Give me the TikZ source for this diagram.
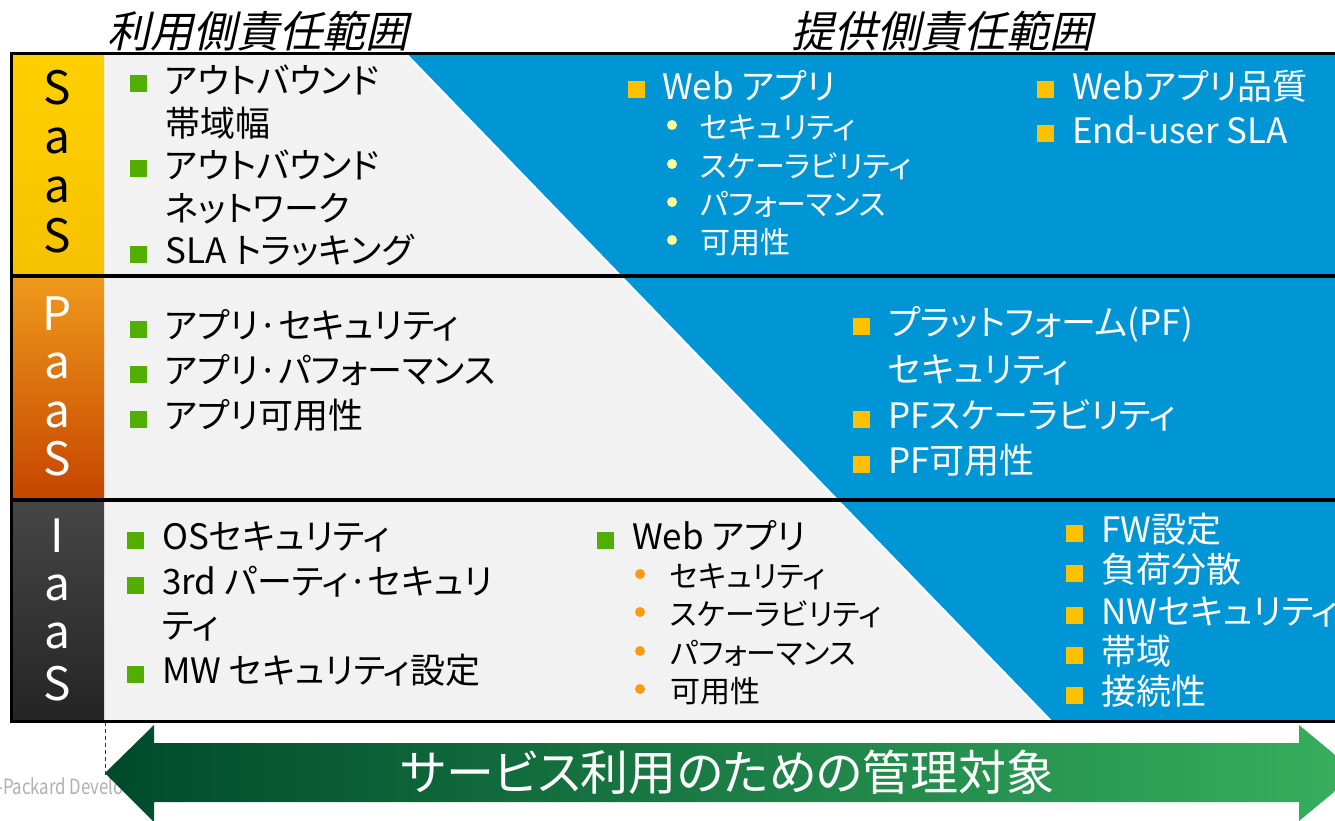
\documentclass[tikz,border=0pt]{standalone}
\usepackage{fontspec}
\setmainfont{Noto Sans CJK JP}[RawFeature=+palt]
\newfontfamily\jpslant{Noto Sans CJK JP}[FakeSlant=0.22,RawFeature=+palt]
\newfontfamily\condfont{Noto Sans CJK JP}[FakeStretch=0.8]
\definecolor{hpblue}{HTML}{0096D6}
\definecolor{panelgray}{HTML}{F2F2F2}
\definecolor{bulgreen}{HTML}{52AE00}
\definecolor{bulgold}{HTML}{FFC000}
\definecolor{dotyellow}{HTML}{FFFF99}
\definecolor{dotorange}{HTML}{FF9A0E}
\definecolor{arrdark}{HTML}{004A2C}
\definecolor{arrlight}{HTML}{37B05E}
\definecolor{copygray}{HTML}{B0B0B0}
\begin{document}
\begin{tikzpicture}[x=1pt,y=-1pt,
  mainT/.style={anchor=west, inner sep=0pt, font=\fontsize{35}{35}\selectfont, text height=30.8pt, text depth=4.2pt},
  subT/.style={anchor=west, inner sep=0pt, font=\fontsize{30}{30}\selectfont, text height=26.4pt, text depth=3.6pt},
  onblue/.style={text=white},
  sqG/.style={fill=bulgreen, minimum size=17pt, inner sep=0pt},
  sqY/.style={fill=bulgold, minimum size=17pt, inner sep=0pt},
  dotY/.style={circle, fill=dotyellow, minimum size=10pt, inner sep=0pt},
  dotO/.style={circle, fill=dotorange, minimum size=10pt, inner sep=0pt},
  colL/.style={anchor=base, inner sep=0pt, font=\fontsize{46}{46}\selectfont},
  headT/.style={inner sep=0pt, font=\jpslant\fontsize{43}{43}\selectfont, text height=38pt, text depth=5pt},
  rowline/.style={line width=4pt, black},
]
\useasboundingbox (0,0) rectangle (1335,821);
\clip (0,0) rectangle (1335,821);
\fill[white] (0,0) rectangle (1335,821);

% panel background
\fill[panelgray] (104,53) rectangle (1345,722);
\fill[hpblue] (405,53) -- (1345,53) -- (1345,722) -- (1052,722) -- cycle;
\draw[white, line width=2pt] (405,53) -- (1052,722);

% column shadings
\shade[top color={rgb,255:red,255;green,208;blue,0}, middle color={rgb,255:red,216;green,168;blue,0}, bottom color={rgb,255:red,246;green,194;blue,0}] (11,53) rectangle (104,276);
\shade[top color={rgb,255:red,239;green,154;blue,27}, bottom color={rgb,255:red,197;green,69;blue,0}] (11,276) rectangle (104,500);
\shade[top color={rgb,255:red,70;green,70;blue,70}, bottom color={rgb,255:red,36;green,36;blue,36}] (11,500) rectangle (104,722);

% frame lines
\draw[line width=3pt, black] (1345,53.5) -- (11.5,53.5) -- (11.5,721.5) -- (1345,721.5);
\draw[rowline] (10,276) -- (1345,276);
\draw[rowline] (10,500) -- (1345,500);

% headers
\node[headT] (hUser) at (258,31) {利用側責任範囲};
\node[headT] (hProv) at (942,31) {提供側責任範囲};

% column letters
\node[colL] (sa1) at (57,105) {S};
\node[colL] (sa2) at (57,154) {a};
\node[colL] (sa3) at (57,203) {a};
\node[colL] (sa4) at (57,252) {S};
\node[colL, text=white] (pa1) at (57,330) {P};
\node[colL, text=white] (pa2) at (57,378) {a};
\node[colL, text=white] (pa3) at (57,427) {a};
\node[colL, text=white] (pa4) at (57,475) {S};
\node[colL, text=white] (ia1) at (57,552) {I};
\node[colL, text=white] (ia2) at (57,600) {a};
\node[colL, text=white] (ia3) at (57,648) {a};
\node[colL, text=white] (ia4) at (57,700) {S};

% SaaS - user side
\node[sqG] (sb1) at (138,84) {};
\node[mainT] (st1) at (165,80) {アウトバウンド};
\node[mainT] (st1c) at (165,123) {帯域幅};
\node[sqG] (sb2) at (138,169) {};
\node[mainT] (st2) at (165,165) {アウトバウンド};
\node[mainT] (st2c) at (165,208) {ネットワーク};
\node[sqG] (sb3) at (138,254) {};
\node[mainT] (st3) at (165,250) {SLA トラッキング};

% SaaS - provider side
\node[sqY] (sb4) at (636,90) {};
\node[mainT, onblue] (st4) at (662,86) {Web アプリ};
\node[dotY] (sd1) at (672,125) {};
\node[subT, onblue] (ss1) at (700,127) {セキュリティ};
\node[dotY] (sd2) at (672,164) {};
\node[subT, onblue] (ss2) at (700,166) {スケーラビリティ};
\node[dotY] (sd3) at (672,202) {};
\node[subT, onblue] (ss3) at (700,204) {パフォーマンス};
\node[dotY] (sd4) at (672,240) {};
\node[subT, onblue] (ss4) at (700,242) {可用性};
\node[sqY] (sb5) at (1045,90) {};
\node[mainT, onblue] (st5) at (1072,86) {Webアプリ品質};
\node[sqY] (sb6) at (1045,134) {};
\node[mainT, onblue] (st6) at (1072,130) {End-user SLA};

% PaaS - user side
\node[sqG] (pb1) at (138,329) {};
\node[mainT] (pt1) at (165,325) {アプリ·セキュリティ};
\node[sqG] (pb2) at (138,374) {};
\node[mainT] (pt2) at (165,370) {アプリ·パフォーマンス};
\node[sqG] (pb3) at (138,419) {};
\node[mainT] (pt3) at (165,415) {アプリ可用性};

% PaaS - provider side
\node[sqY] (pb4) at (861,326) {};
\node[mainT, onblue] (pt4) at (888,322) {プラットフォーム(PF)};
\node[mainT, onblue] (pt4c) at (888,369) {セキュリティ};
\node[sqY] (pb5) at (861,419) {};
\node[mainT, onblue] (pt5) at (888,415) {PFスケーラビリティ};
\node[sqY] (pb6) at (861,464) {};
\node[mainT, onblue] (pt6) at (888,460) {PF可用性};

% IaaS - user side
\node[sqG] (ib1) at (135,540) {};
\node[mainT] (it1) at (162,536) {OSセキュリティ};
\node[sqG] (ib2) at (135,585) {};
\node[mainT] (it2) at (162,581) {3rd パーティ·セキュリ};
\node[mainT] (it2c) at (162,625) {ティ};
\node[sqG] (ib3) at (135,674) {};
\node[mainT] (it3) at (162,670) {MW セキュリティ設定};

\node[sqG] (ib4) at (605,540) {};
\node[mainT] (it4) at (632,536) {Web アプリ};
\node[dotO] (id1) at (640,574) {};
\node[subT] (is1) at (670,576) {セキュリティ};
\node[dotO] (id2) at (640,612) {};
\node[subT] (is2) at (670,614) {スケーラビリティ};
\node[dotO] (id3) at (640,651) {};
\node[subT] (is3) at (670,653) {パフォーマンス};
\node[dotO] (id4) at (640,689) {};
\node[subT] (is4) at (670,691) {可用性};

% IaaS - provider side
\node[sqY] (ib5) at (1074,533) {};
\node[mainT, onblue] (it5) at (1101,529) {FW設定};
\node[sqY] (ib6) at (1074,573) {};
\node[mainT, onblue] (it6) at (1101,569) {負荷分散};
\node[sqY] (ib7) at (1074,615) {};
\node[mainT, onblue] (it7) at (1101,611) {NWセキュリティ};
\node[sqY] (ib8) at (1074,655) {};
\node[mainT, onblue] (it8) at (1101,651) {帯域};
\node[sqY] (ib9) at (1074,695) {};
\node[mainT, onblue] (it9) at (1101,691) {接続性};

% copyright fragment
\node[anchor=base west, inner sep=0pt, text=copygray, font=\condfont\fontsize{21}{21}\selectfont] (copy) at (-3,794) {-Packard Develo};

% dashed guide
\coordinate (dtop) at (105,722);
\coordinate (dbot) at (105,776);
\draw[dashed, dash pattern=on 4pt off 3pt, black!80, line width=1pt] (dtop) -- (dbot);

% bottom double arrow
\shade[left color=arrdark, right color=arrlight]
  (105,773) -- (154,725) -- (154,743) -- (1299,743) -- (1299,725) -- (1357,773)
  -- (1299,821) -- (1299,802) -- (154,802) -- (154,822) -- cycle;
\node[inner sep=0pt, text=white, font=\fontsize{48}{48}\selectfont, text height=42pt, text depth=6pt] (arrT) at (728,772) {サービス利用のための管理対象};
\end{tikzpicture}
\end{document}
